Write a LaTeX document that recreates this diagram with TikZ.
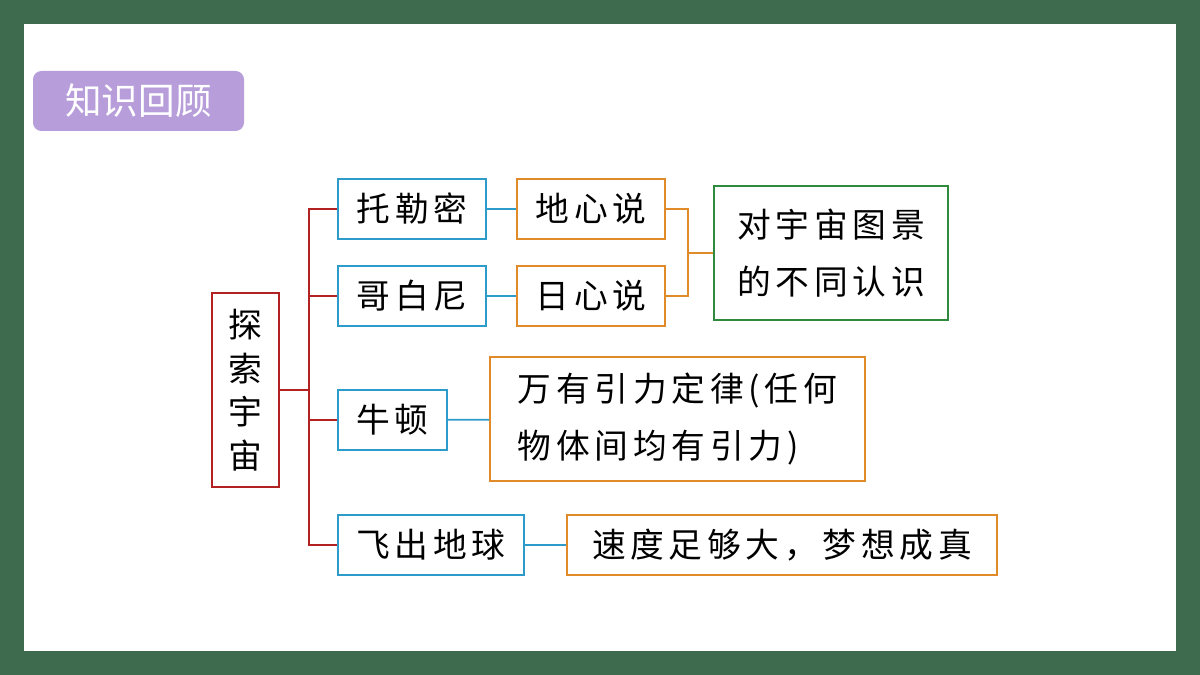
\documentclass[tikz,border=0pt]{standalone}
\usepackage{fontspec}
\newfontfamily\cjk{Noto Sans CJK SC}
\newfontfamily\cjkwide[LetterSpace=14]{Noto Sans CJK SC}
\usetikzlibrary{positioning,calc}
\definecolor{board}{HTML}{3E6B4E}
\definecolor{badge}{HTML}{B79DD9}
\definecolor{rootred}{HTML}{B22222}
\definecolor{bluebox}{HTML}{2E9CCB}
\definecolor{orangebox}{HTML}{E08A2A}
\definecolor{greenbox}{HTML}{2E8B3E}
\tikzset{
  box/.style={draw, line width=1.2pt, inner sep=0pt, font=\cjkwide\fontsize{24}{34}\selectfont},
  person/.style={box, draw=bluebox},
  idea/.style={box, draw=orangebox},
  link/.style={line width=1.2pt}
}
\begin{document}
\begin{tikzpicture}[x=0.025cm,y=-0.025cm]
\fill[board] (0,0) rectangle (1200,675);
\fill[white] (24,24) rectangle (1176,651);
\node[fill=badge, rounded corners=6pt, minimum width=211*0.025cm, minimum height=60*0.025cm,
  text=white, font=\cjk\fontsize{26}{30}\selectfont] (title) at (138.5,101) {知识回顾};
% root
\node[box, draw=rootred, minimum width=67*0.025cm, minimum height=194*0.025cm, align=center,
  font=\cjk\fontsize{24}{31}\selectfont] (root) at (245.5,390) {探\\索\\宇\\宙};
% people
\node[person, minimum width=148*0.025cm, minimum height=60*0.025cm] (ptolemy) at (412,209) {托勒密};
\node[person, minimum width=148*0.025cm, minimum height=60*0.025cm] (copernicus) at (412,296) {哥白尼};
\node[person, minimum width=109*0.025cm, minimum height=60*0.025cm] (newton) at (392.5,420) {牛顿};
\node[person, minimum width=186*0.025cm, minimum height=60*0.025cm] (flight) at (431,545) {飞出地球};
% ideas
\node[idea, minimum width=148*0.025cm, minimum height=60*0.025cm] (geo) at (591,209) {地心说};
\node[idea, minimum width=148*0.025cm, minimum height=60*0.025cm] (helio) at (591,296) {日心说};
\node[box, draw=greenbox, minimum width=234*0.025cm, minimum height=134*0.025cm, align=left,
  font=\cjkwide\fontsize{24}{40}\selectfont] (views) at (831,253) {对宇宙图景\\的不同认识};
\node[idea, minimum width=375*0.025cm, minimum height=124*0.025cm, align=left,
  font=\cjkwide\fontsize{24}{40}\selectfont] (gravity) at (677.5,419) {万有引力定律(任何\\物体间均有引力)};
\node[idea, minimum width=430*0.025cm, minimum height=60*0.025cm] (speed) at (782,545) {速度足够大，梦想成真};
% red tree
\coordinate (trunk) at (309,390);
\draw[link, rootred] (root.east) -- (trunk);
\foreach \p in {ptolemy,copernicus,newton,flight}
  \draw[link, rootred] (trunk) |- (\p.west);
% blue links
\draw[link, bluebox] (ptolemy) -- (geo);
\draw[link, bluebox] (copernicus) -- (helio);
\draw[link, bluebox] (newton) -- (gravity);
\draw[link, bluebox] (flight) -- (speed);
% orange bracket
\coordinate (joint) at (688,253);
\draw[link, orangebox] (geo.east) -| (joint) |- (helio.east);
\draw[link, orangebox] (joint) -- (views.west);
\end{tikzpicture}
\end{document}
